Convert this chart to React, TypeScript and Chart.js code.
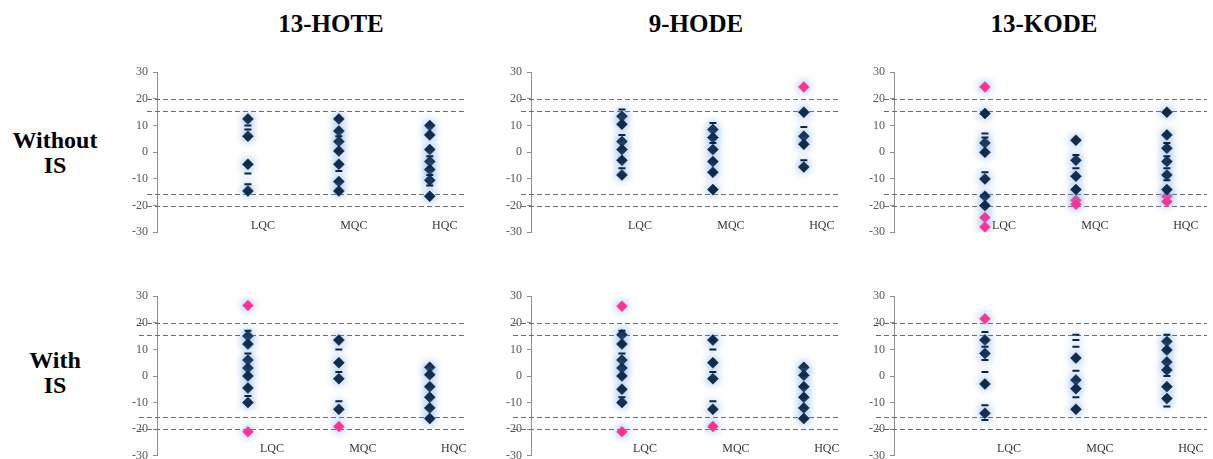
import React, { useEffect, useRef } from 'react';
import { Chart, registerables } from 'chart.js';

Chart.register(...registerables);

// ---------- data ----------
const categories = ['LQC', 'MQC', 'HQC'];
const yTickValues = [30, 20, 10, 0, -10, -20, -30];
const limitLines = [20, 15.5, -15.5, -20];
const columnTitles = ['13-HOTE', '9-HODE', '13-KODE'];
const rowTitles = [['Without', 'IS'], ['With', 'IS']];

// 13-HOTE, without IS  (per category: LQC, MQC, HQC)
const hoteWithoutMain = [[12.5, 6, -4.5, -14.5], [12.5, 8, 4, 0.5, -4.5, -11, -14.5], [10, 6.5, 1, -3.5, -6.5, -10.5, -16.5]];
const hoteWithoutMinor = [[10, 8.5, -8, -12], [6, -7], [-1.5, -8.5, -12.5]];
const hoteWithoutOut = [[], [], []];

// 9-HODE, without IS
const hodeWithoutMain = [[13.5, 10.5, 4, 1, -3, -8.5], [8.5, 5.5, 1, -3.5, -7.5, -14], [15, 6, 3, -5.5]];
const hodeWithoutMinor = [[16, 6.5, -6], [11, 3.5], [9.5, -3]];
const hodeWithoutOut = [[], [], [24.5]];

// 13-KODE, without IS
const kodeWithoutMain = [[14.5, 3.5, 0, -10, -16.5, -20], [4.5, -3, -9, -14], [15, 6.5, 1.5, -3.5, -8.5, -14]];
const kodeWithoutMinor = [[7, 5.5, -7.5], [-1, -6], [3.5, -1.5, -6, -10.5]];
const kodeWithoutOut = [[24.5, -24.5, -28], [-18, -19.5], [-16.5, -18.5]];

// 13-HOTE, with IS
const hoteWithMain = [[15, 12, 6, 3, 0, -4.5, -10], [13.5, 5, -1, -12.5], [3.25, 0.5, -4, -8, -12, -16]];
const hoteWithMinor = [[17, 8.5, -7.5], [10, 1.5, -9.5], []];
const hoteWithOut = [[26.5, -21], [-19], []];

// 9-HODE, with IS
const hodeWithMain = [[15.5, 12, 6, 3, 0, -5, -10], [13.5, 5, -1, -12.5], [3.25, 0.25, -4, -8, -12, -16]];
const hodeWithMinor = [[17, 8.5, -8], [10, 1.5, -9.5], []];
const hodeWithOut = [[26.25, -21], [-19], []];

// 13-KODE, with IS
const kodeWithMain = [[13.5, 8.5, -3, -14], [6.75, -1.5, -4.75, -12.5], [13, 9.75, 5.25, 2.25, -4, -8.5]];
const kodeWithMinor = [[16.5, 11, 6, 1.5, -11, -16.5], [15.5, 13.5, 11, 2, -8], [15.5, 0, -11.5]];
const kodeWithOut = [[21.5], [], []];

const panels = [
  { row: 0, col: 0, main: hoteWithoutMain, minor: hoteWithoutMinor, out: hoteWithoutOut },
  { row: 0, col: 1, main: hodeWithoutMain, minor: hodeWithoutMinor, out: hodeWithoutOut },
  { row: 0, col: 2, main: kodeWithoutMain, minor: kodeWithoutMinor, out: kodeWithoutOut },
  { row: 1, col: 0, main: hoteWithMain, minor: hoteWithMinor, out: hoteWithOut },
  { row: 1, col: 1, main: hodeWithMain, minor: hodeWithMinor, out: hodeWithOut },
  { row: 1, col: 2, main: kodeWithMain, minor: kodeWithMinor, out: kodeWithOut },
];

// ---------- layout (pixels) ----------
const colAxisX = [157, 531, 894];
const colLineEnd = [470, 847, 1213];
const colSpacing = 92.7;
const rowTop = [71.5, 295.5];
const rowBottom = [232, 455.5];
const labelShift = [[15, 18, 19], [24, 23, 24]];
const AXIS_W = 60;
const PAD = 12;

const NAVY = '#0b2545';
const PINK = '#ff2f92';
const FONT = '"Liberation Serif", "Times New Roman", serif';

const toPoints = (groups: number[][]) =>
  groups.flatMap((vals, i) => vals.map((v) => ({ x: i + 1, y: v })));

const decoPlugin = {
  id: 'panelDeco',
  beforeDatasetsDraw(chart: any, _args: any, opts: any) {
    const { ctx, chartArea, scales } = chart;
    const x = scales.x;
    const y = scales.y;
    ctx.save();
    ctx.strokeStyle = '#6b6b6b';
    ctx.lineWidth = 1;
    ctx.setLineDash([5, 3]);
    for (const v of limitLines) {
      const py = Math.round(y.getPixelForValue(v)) + 0.5;
      ctx.beginPath();
      ctx.moveTo(chartArea.left - opts.lineLead, py);
      ctx.lineTo(chartArea.right, py);
      ctx.stroke();
    }
    ctx.restore();

    ctx.save();
    ctx.fillStyle = '#333333';
    ctx.font = '12px ' + FONT;
    ctx.textAlign = 'center';
    ctx.textBaseline = 'middle';
    categories.forEach((c, i) => {
      ctx.fillText(c, x.getPixelForValue(i + 1) + opts.labelShift, y.getPixelForValue(-27.5));
    });
    ctx.restore();

    ctx.save();
    ctx.shadowColor = 'rgba(110,160,225,0.95)';
    ctx.shadowBlur = 8;
  },
  afterDatasetsDraw(chart: any) {
    chart.ctx.restore();
  },
};

function Panel({ p }: { p: typeof panels[number] }) {
  const ref = useRef<HTMLCanvasElement | null>(null);
  const axisX = colAxisX[p.col];
  const lineEnd = colLineEnd[p.col];
  const top = rowTop[p.row];
  const bottom = rowBottom[p.row];
  const left = axisX - AXIS_W;
  const width = lineEnd - left;
  const height = bottom - top + 2 * PAD;

  useEffect(() => {
    if (!ref.current) return;
    const xMax = (lineEnd - axisX) / colSpacing;
    const chart = new Chart(ref.current, {
      type: 'scatter',
      data: {
        datasets: [
          {
            label: 'minor',
            data: toPoints(p.minor),
            pointStyle: 'line',
            pointRadius: 3.5,
            borderColor: NAVY,
            backgroundColor: NAVY,
            borderWidth: 2,
          },
          {
            label: 'main',
            data: toPoints(p.main),
            pointStyle: 'rectRot',
            pointRadius: 5.5,
            borderColor: NAVY,
            backgroundColor: NAVY,
            borderWidth: 0.5,
          },
          {
            label: 'outside',
            data: toPoints(p.out),
            pointStyle: 'rectRot',
            pointRadius: 5.5,
            borderColor: '#ff5aa8',
            backgroundColor: PINK,
            borderWidth: 0.5,
          },
        ],
      },
      options: {
        animation: false,
        responsive: true,
        maintainAspectRatio: false,
        events: [],
        layout: { padding: { top: PAD, bottom: PAD, left: 0, right: 0 } },
        plugins: {
          legend: { display: false },
          tooltip: { enabled: false },
          panelDeco: { lineLead: p.row === 0 ? 10 : 18, labelShift: labelShift[p.row][p.col] },
        } as any,
        scales: {
          x: { type: 'linear', min: 0, max: xMax, display: false },
          y: {
            type: 'linear',
            min: -30,
            max: 30,
            afterBuildTicks: (s: any) => {
              s.ticks = yTickValues.map((v) => ({ value: v }));
            },
            afterFit: (s: any) => {
              s.width = AXIS_W;
            },
            border: { display: true, color: '#8f8f8f', width: 1 },
            grid: { drawOnChartArea: false, drawTicks: true, tickLength: 4, color: '#8f8f8f' },
            ticks: {
              color: '#555555',
              padding: 5,
              font: { family: FONT, size: 12 },
            },
          },
        },
      },
      plugins: [decoPlugin],
    });
    return () => chart.destroy();
  }, []);

  return (
    <div style={{ position: 'absolute', left, top: top - PAD, width, height }}>
      <canvas ref={ref} />
    </div>
  );
}

const titleX = [331, 696, 1044];
const rowLabelTop = [127.5, 347.5];

export default function App() {
  return (
    <div
      style={{
        position: 'absolute',
        left: 0,
        top: 0,
        width: 1213,
        height: 459,
        overflow: 'hidden',
        background: '#ffffff',
        fontFamily: FONT,
      }}
    >
      {columnTitles.map((t, i) => (
        <div
          key={t}
          style={{
            position: 'absolute',
            left: titleX[i],
            top: 11,
            transform: 'translateX(-50%)',
            fontSize: 25,
            lineHeight: '25px',
            fontWeight: 'bold',
            whiteSpace: 'nowrap',
            color: '#000',
          }}
        >
          {t}
        </div>
      ))}
      {rowTitles.map((lines, r) => (
        <div
          key={r}
          style={{
            position: 'absolute',
            left: 55,
            top: rowLabelTop[r],
            transform: 'translateX(-50%)',
            fontSize: 24,
            lineHeight: '25px',
            fontWeight: 'bold',
            textAlign: 'center',
            whiteSpace: 'nowrap',
            color: '#000',
          }}
        >
          {lines.map((l) => (
            <div key={l}>{l}</div>
          ))}
        </div>
      ))}
      {panels.map((p, i) => (
        <Panel key={i} p={p} />
      ))}
    </div>
  );
}
